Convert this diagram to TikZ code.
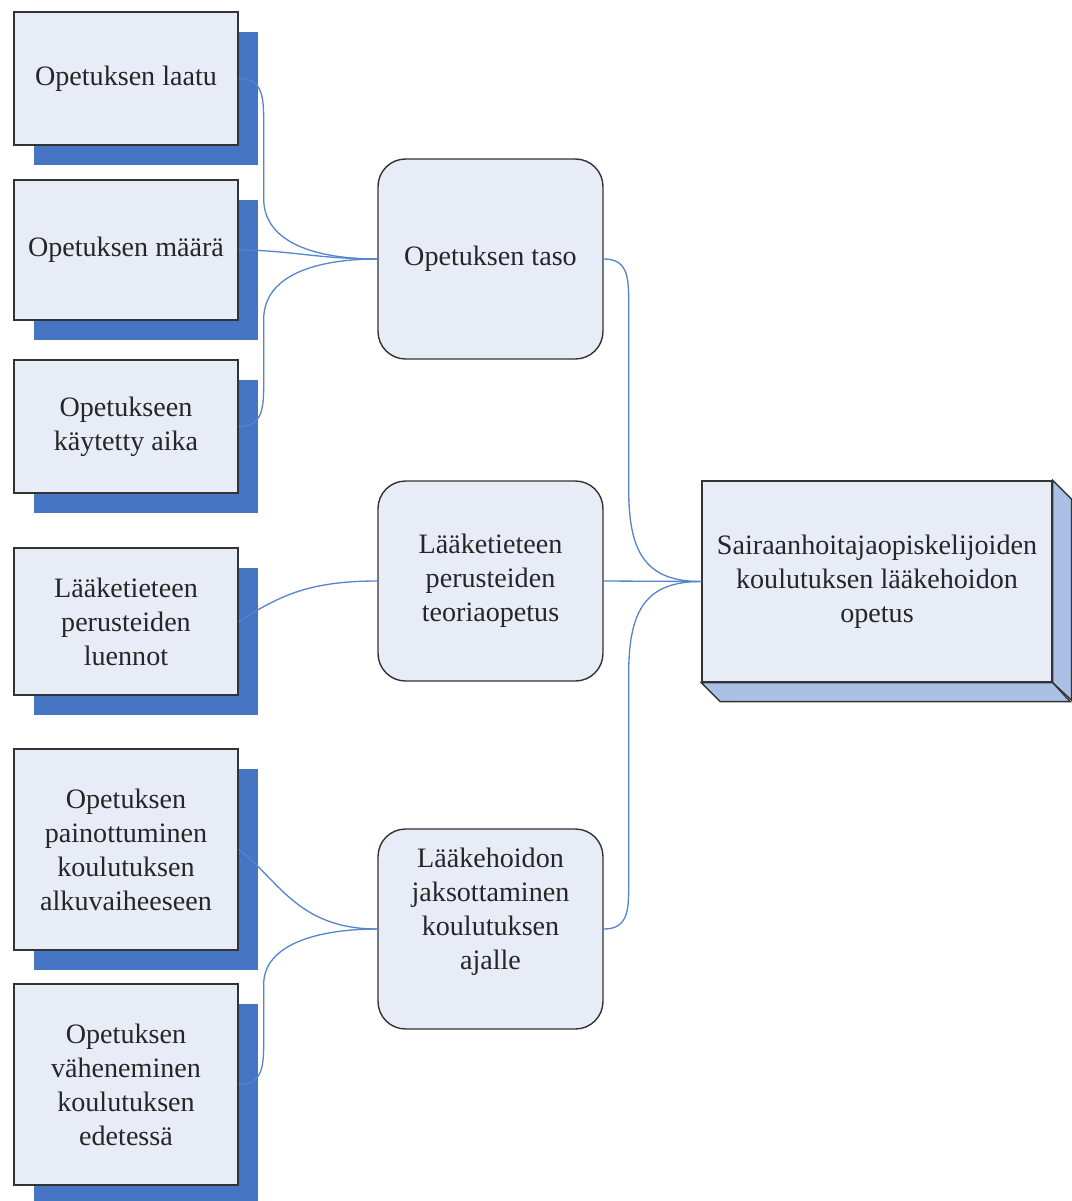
\documentclass[tikz,border=0pt]{standalone}
\usepackage{fontspec}
\setmainfont{Liberation Serif}
\usetikzlibrary{shadows}

\definecolor{boxfill}{HTML}{E7ECF7}
\definecolor{shadowblue}{HTML}{4575C3}
\definecolor{sidefill}{HTML}{AAC1E5}
\definecolor{linkblue}{HTML}{5585CC}
\definecolor{edgegray}{HTML}{333333}

\tikzset{
  txt/.style={align=center, font=\fontsize{16}{19.4}\selectfont, text=black!85},
  leaf/.style={txt, draw=edgegray, line width=0.8pt, fill=boxfill, inner sep=0pt,
    minimum width=4.48cm,
    drop shadow={shadow xshift=0.4cm, shadow yshift=-0.4cm, fill=shadowblue, opacity=1}},
  mid/.style={txt, draw=edgegray, line width=0.8pt, fill=boxfill, inner sep=0pt,
    rounded corners=0.55cm, minimum width=4.5cm, minimum height=4cm},
  result/.style={txt, draw=edgegray, line width=0.8pt, fill=boxfill, inner sep=0pt,
    minimum width=7cm, minimum height=4.02cm},
  link/.style={draw=linkblue, line width=0.75pt}
}

\begin{document}
\begin{tikzpicture}[x=0.02cm, y=-0.02cm]
    \useasboundingbox (0,0) rectangle (1072,1201);

    % Vasen sarake
    \node[leaf, minimum height=2.66cm] (l1) at (126,78.5) {Opetuksen laatu};
    \node[leaf, minimum height=2.8cm]  (l2) at (126,250) {Opetuksen määrä};
    \node[leaf, minimum height=2.66cm] (l3) at (126,426.5) {Opetukseen\\käytetty aika};
    \node[leaf, minimum height=2.94cm] (l4) at (126,621.5) {Lääketieteen\\perusteiden\\luennot};
    \node[leaf, minimum height=4.02cm] (l5) at (126,849.5) {Opetuksen\\painottuminen\\koulutuksen\\alkuvaiheeseen};
    \node[leaf, minimum height=4.02cm] (l6) at (126,1084.5) {Opetuksen\\väheneminen\\koulutuksen\\edetessä};

    % Keskimmäinen sarake
    \node[mid] (m1) at (490.5,259) {Opetuksen taso};
    \node[mid] (m2) at (490.5,581) {Lääketieteen\\perusteiden\\teoriaopetus};
    \node[mid] (m3) at (490.5,929) {};
    \node[txt] (m3txt) at (490.5,912) {Lääkehoidon\\jaksottaminen\\koulutuksen\\ajalle};

    % Oikea laatikko (3D)
    \node[result] (r) at (877,581.5) {Sairaanhoitajaopiskelijoiden\\koulutuksen lääkehoidon\\opetus};
    \draw[draw=edgegray, line width=0.8pt, fill=sidefill] (r.north east) -- ++(19,19) -- ++(0,201) -- (r.south east) -- cycle;
    \draw[draw=edgegray, line width=0.8pt, fill=sidefill] (r.south west) -- ++(19,19) -- ++(350,0) -- (r.south east) -- cycle;

    % Yhteydet vasemmalta keskelle
    \draw[link] (l1.east) .. controls +(22,0) and +(0,-25) .. ++(25,40) -- ++(0,80) .. controls +(0,45) and +(-60,0) .. (m1.west);
    \draw[link] (l2.east) .. controls +(50,0) and +(-60,0) .. (m1.west);
    \draw[link] (l3.east) .. controls +(22,0) and +(0,25) .. ++(25,-40) -- ++(0,-67) .. controls +(0,-45) and +(-60,0) .. (m1.west);
    \draw[link] (l4.east) .. controls +(40,-25) and +(-70,0) .. (m2.west);
    \draw[link] (l5.east) .. controls +(40,30) and +(-80,0) .. (m3.west);
    \draw[link] (l6.east) .. controls +(22,0) and +(0,25) .. ++(25,-40) -- ++(0,-60) .. controls +(0,-40) and +(-60,0) .. (m3.west);

    % Yhteydet keskeltä oikealle
    \draw[link] (m1.east) .. controls +(22,0) and +(0,-25) .. ++(25,40) -- ++(0,190) .. controls +(0,65) and +(-55,0) .. (r.west);
    \draw[link] (m2.east) -- (r.west);
    \draw[link] (m3.east) .. controls +(22,0) and +(0,25) .. ++(25,-40) -- ++(0,-215) .. controls +(0,-65) and +(-55,0) .. (r.west);

\end{tikzpicture}
\end{document}
